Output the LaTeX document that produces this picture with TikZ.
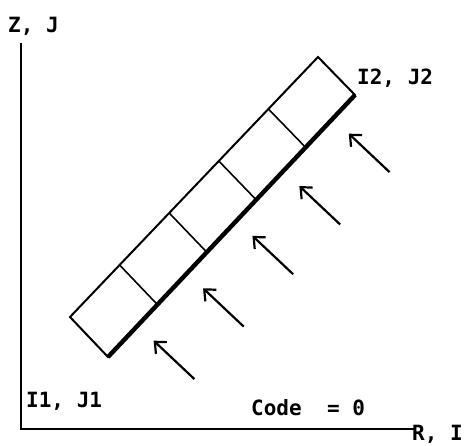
\documentclass[tikz,border=0pt]{standalone}
\usepackage{fontspec}
\setmonofont{DejaVu Sans Mono}
\usepackage{tikz}
\usetikzlibrary{arrows.meta, calc}

\begin{document}
\begin{tikzpicture}[x=1pt, y=1pt,
  axis/.style={line width=2.6pt},
  cell/.style={line width=2pt, line join=miter},
  divider/.style={line width=1.6pt},
  wall/.style={line width=4.4pt},
  flux/.style={line width=2.2pt, -{Straight Barb[length=9pt, width=16pt]}},
  lbl/.style={font=\fontsize{21}{24}\selectfont\ttfamily\bfseries, inner sep=0pt, anchor=base west}
]
\useasboundingbox (0,0) rectangle (465,445);

% axes
\coordinate (O) at (21,16);
\coordinate (Ztop) at (21,402);
\coordinate (Rend) at (414,16);
\draw[axis] (Ztop) -- (O) -- (Rend);
\node[lbl] (zj) at (8,412) {Z, J};
\node[lbl] (ri) at (412,5) {R, I};

% strip of cells
\coordinate (A) at (70,128);
\coordinate (B) at (108,88);
\coordinate (C) at (355,350);
\coordinate (D) at (318,388);
\draw[cell] (A) -- (B) -- (C) -- (D) -- cycle;
\foreach \f in {0.2,0.4,0.6,0.8}
  \draw[divider] ($(B)!\f!(C)$) -- ($(A)!\f!(D)$);
\draw[wall] (B) -- (C);

\node[lbl] (i2j2) at (357,360) {I2, J2};
\node[lbl] (i1j1) at (26,38) {I1, J1};
\node[lbl] (code) at (251,30) {Code\ \ = 0};

% incoming arrows
\foreach \f [count=\i] in {0.12,0.32,0.52,0.71,0.91} {
  \coordinate (tip\i) at ($(B)!\f!(C)!22pt!-90:(C)$);
  \coordinate (tail\i) at ($(B)!\f!(C)!78pt!-90:(C)$);
  \draw[flux] (tail\i) -- (tip\i);
}
\end{tikzpicture}
\end{document}
